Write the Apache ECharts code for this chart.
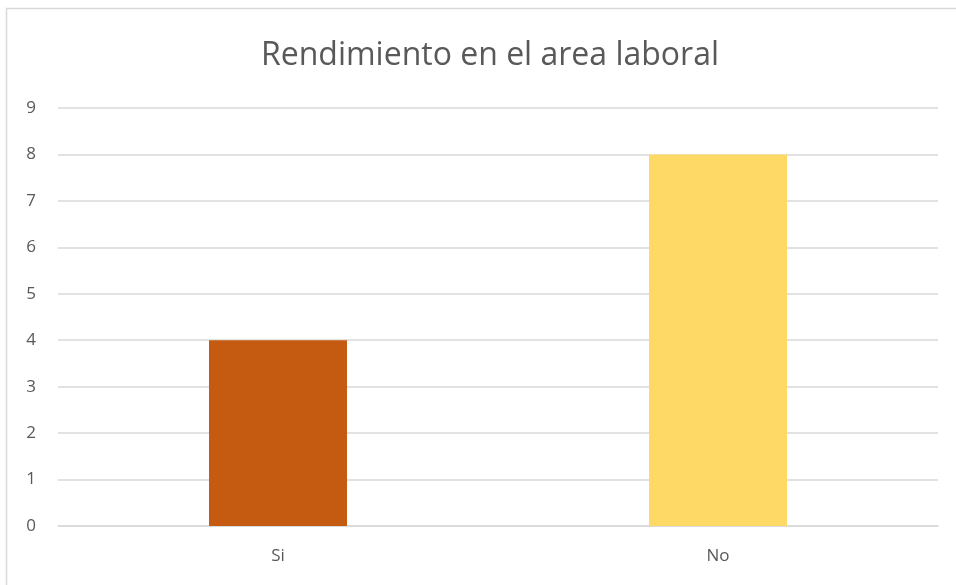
<!DOCTYPE html>
<html>
<head>
<meta charset="utf-8">
<script src="https://cdn.jsdelivr.net/npm/echarts@6/dist/echarts.min.js"></script>
<style>
  html, body { margin: 0; padding: 0; background: #fff; }
  #chart { width: 956px; height: 585px; }
</style>
</head>
<body>
<div id="chart"></div>
<script>
var categories = ["Si", "No"];
var values = [4, 8];
var barColors = ["#C55A11", "#FFD966"];

var chart = echarts.init(document.getElementById("chart"));

chart.setOption({
  animation: false,
  title: {
    text: "Rendimiento en el area laboral",
    left: 485,
    textAlign: "center",
    top: 35,
    textStyle: {
      fontFamily: "Open Sans",
      fontWeight: "normal",
      fontSize: 32,
      color: "#595959"
    }
  },
  // chart border
  graphic: [
    {
      type: "rect",
      shape: { x: 6.5, y: 8.5, width: 960, height: 590 },
      style: { fill: "none", stroke: "#d9d9d9", lineWidth: 1.5 },
      silent: true
    }
  ],
  grid: { left: 58, right: 18, top: 108, bottom: 59 },
  xAxis: {
    type: "category",
    data: categories,
    axisLine: { lineStyle: { color: "#d9d9d9", width: 1.5 } },
    axisTick: { show: false },
    axisLabel: {
      margin: 22,
      fontFamily: "Open Sans",
      fontSize: 17,
      color: "#595959"
    }
  },
  yAxis: {
    type: "value",
    min: 0,
    max: 9,
    interval: 1,
    axisLine: { show: false },
    axisTick: { show: false },
    splitLine: { lineStyle: { color: "#d9d9d9", width: 1.5 } },
    axisLabel: {
      margin: 22,
      fontFamily: "Open Sans",
      fontSize: 17,
      color: "#595959"
    }
  },
  series: [
    {
      type: "bar",
      barWidth: 138,
      data: values.map(function (v, i) {
        return { value: v, itemStyle: { color: barColors[i] } };
      })
    }
  ]
});
</script>
</body>
</html>
